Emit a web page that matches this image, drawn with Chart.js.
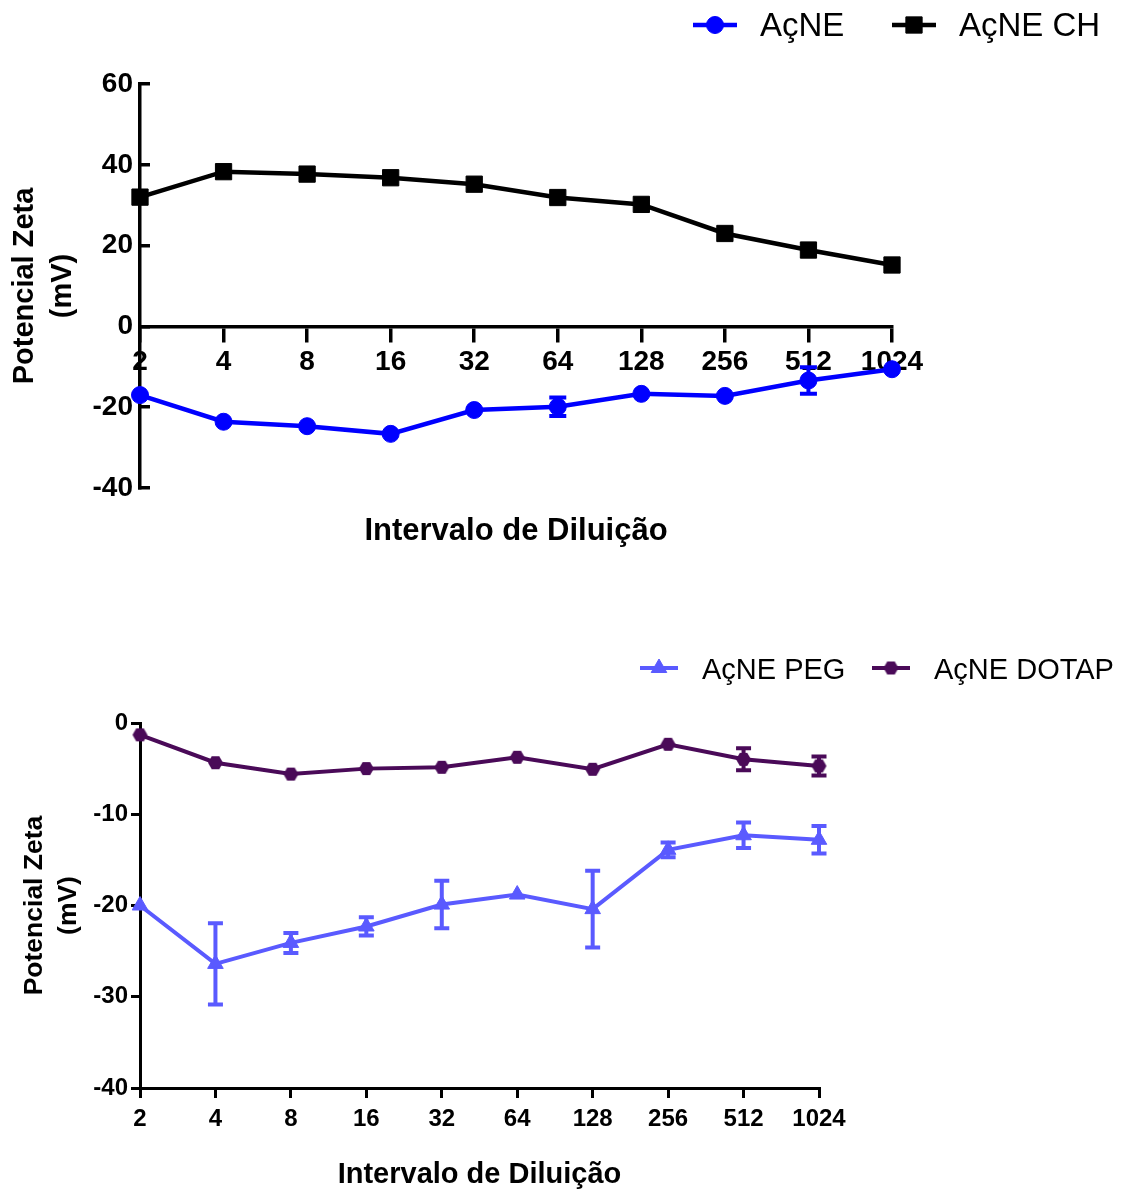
<!DOCTYPE html>
<html lang="pt">
<head>
<meta charset="utf-8">
<title>Potencial Zeta</title>
<script src="https://cdn.jsdelivr.net/npm/chart.js@4.4.1/dist/chart.umd.min.js"></script>
<style>
  html, body { margin: 0; padding: 0; background: #fff; }
  .panel { position: absolute; left: 0; width: 1127px; }
  #panelTop { top: 0; height: 575px; }
  #panelBottom { top: 620px; height: 569px; }
</style>
</head>
<body>
<div class="panel" id="panelTop"><canvas id="zetaTop"></canvas></div>
<div class="panel" id="panelBottom"><canvas id="zetaBottom"></canvas></div>
<script>
// Zeta potential (mV) vs dilution, mean and SD per formulation

const dilutions = ['2', '4', '8', '16', '32', '64', '128', '256', '512', '1024'];

const acneMean   = [-17.0, -23.6, -24.7, -26.6, -20.7, -19.9, -16.7, -17.2, -13.4, -10.6];
const acneSd     = [0, 0, 0, 0, 0, 2.3, 0, 0, 3.3, 0];
const acneChMean = [32.0, 38.3, 37.7, 36.8, 35.2, 31.9, 30.2, 23.0, 18.9, 15.2];
const acneChSd   = [0, 0, 0, 0, 0, 0, 0, 0, 0, 0];

const pegMean   = [-20.0, -26.4, -24.1, -22.3, -19.9, -18.8, -20.4, -13.9, -12.3, -12.8];
const pegSd     = [0, 4.45, 1.1, 1.0, 2.6, 0, 4.2, 0.8, 1.4, 1.5];
const dotapMean = [-1.3, -4.35, -5.6, -5.0, -4.85, -3.76, -5.07, -2.33, -3.98, -4.71];
const dotapSd   = [0, 0, 0, 0, 0, 0, 0, 0, 1.2, 1.05];

const topTicks    = [-40, -20, 0, 20, 40, 60];
const bottomTicks = [-40, -30, -20, -10, 0];

const FONT = '"Liberation Sans", Arial, Helvetica, sans-serif';

// hexagon marker (flat top/bottom), used for the DOTAP series
function hexMarker(color, r) {
  const c = document.createElement('canvas');
  c.width = c.height = Math.ceil(r * 2) + 2;
  const g = c.getContext('2d');
  g.fillStyle = color;
  g.beginPath();
  for (let k = 0; k < 6; k++) {
    const a = Math.PI / 3 * k;
    const px = c.width / 2 + r * Math.cos(a);
    const py = c.height / 2 + r * Math.sin(a);
    if (k) g.lineTo(px, py); else g.moveTo(px, py);
  }
  g.closePath();
  g.fill();
  return c;
}

// legend with a short line segment through the marker
const lineLegend = {
  id: 'lineLegend',
  afterDraw(chart, args, opts) {
    const ctx = chart.ctx;
    ctx.save();
    opts.items.forEach((left, i) => {
      const ds = chart.data.datasets[i];
      ctx.strokeStyle = ds.borderColor;
      ctx.lineWidth = ds.borderWidth;
      ctx.beginPath();
      ctx.moveTo(left, opts.y);
      ctx.lineTo(left + opts.lineLen, opts.y);
      ctx.stroke();
      ctx.fillStyle = ds.pointBackgroundColor;
      ctx.strokeStyle = ds.pointBorderColor;
      ctx.lineWidth = ds.pointBorderWidth;
      Chart.helpers.drawPoint(ctx, {
        pointStyle: ds.pointStyle, radius: ds.pointRadius,
        borderWidth: ds.pointBorderWidth, rotation: 0
      }, left + opts.lineLen / 2, opts.y);
      ctx.fillStyle = '#000';
      ctx.font = opts.font;
      ctx.textBaseline = 'alphabetic';
      ctx.textAlign = 'left';
      ctx.fillText(ds.label, left + opts.textGap, opts.baseline);
    });
    ctx.restore();
  }
};

// SD bars with caps, drawn under the markers
const errorBars = {
  id: 'errorBars',
  beforeDatasetsDraw(chart, args, opts) {
    const ctx = chart.ctx;
    const x = chart.scales.x, y = chart.scales.y;
    ctx.save();
    ctx.lineCap = 'butt';
    chart.data.datasets.forEach(ds => {
      if (!ds.errors) return;
      ctx.strokeStyle = ds.borderColor;
      ctx.lineWidth = opts.lineWidth;
      ds.data.forEach((v, j) => {
        const e = ds.errors[j];
        if (!e) return;
        const px = x.getPixelForValue(j);
        const hi = y.getPixelForValue(v + e);
        const lo = y.getPixelForValue(v - e);
        const w = opts.cap / 2;
        ctx.beginPath();
        ctx.moveTo(px, hi); ctx.lineTo(px, lo);
        ctx.moveTo(px - w, hi); ctx.lineTo(px + w, hi);
        ctx.moveTo(px - w, lo); ctx.lineTo(px + w, lo);
        ctx.stroke();
      });
    });
    ctx.restore();
  }
};

function series(label, data, sd, color, style, radius, width) {
  return {
    label, data, errors: sd,
    borderColor: color, backgroundColor: color,
    pointBackgroundColor: color, pointBorderColor: color,
    pointStyle: style, pointRadius: radius, pointHoverRadius: radius,
    pointBorderWidth: 1, borderWidth: width, tension: 0, clip: false
  };
}

// upper panel: AçNE / AçNE CH, x axis crosses at 0
new Chart(document.getElementById('zetaTop'), {
  type: 'line',
  data: {
    labels: dilutions,
    datasets: [
      series('AçNE', acneMean, acneSd, '#0000ff', 'circle', 8.5, 4.5),
      series('AçNE CH', acneChMean, acneChSd, '#000000', 'rect', 11.5, 4.5)
    ]
  },
  options: {
    responsive: true, maintainAspectRatio: false, animation: false,
    events: [],
    layout: { padding: { top: 84, right: 235, bottom: 0, left: 0 } },
    plugins: {
      legend: { display: false },
      tooltip: { enabled: false },
      lineLegend: { items: [693, 892], y: 25, baseline: 36, lineLen: 44, textGap: 67, font: '33px ' + FONT },
      errorBars: { lineWidth: 4, cap: 17 }
    },
    scales: {
      x: {
        type: 'category', position: { y: 0 }, offset: false, z: 1,
        grid: { drawOnChartArea: false, tickLength: 14, color: '#000', lineWidth: 3.5 },
        border: { color: '#000', width: 3.5 },
        ticks: { color: '#000', padding: 5, maxRotation: 0, autoSkip: false,
                 font: { family: FONT, size: 28, weight: 'bold' } }
      },
      xTitle: {
        type: 'category', position: 'bottom', offset: false,
        grid: { display: false }, border: { display: false }, ticks: { display: false },
        title: { display: true, text: 'Intervalo de Diluição', color: '#000',
                 padding: { top: 0, bottom: 28 },
                 font: { family: FONT, size: 31, weight: 'bold', lineHeight: 1 } },
        afterFit(s) { s.height = 87; }
      },
      y: {
        min: -40, max: 60,
        afterBuildTicks(s) { s.ticks = topTicks.map(v => ({ value: v })); },
        afterFit(s) { s.width = 140; },
        grid: { drawOnChartArea: false, tickLength: -10, color: '#000', lineWidth: 3.5 },
        border: { color: '#000', width: 3.5 },
        ticks: { color: '#000', padding: 17, font: { family: FONT, size: 28, weight: 'bold' } },
        title: { display: true, text: ['Potencial Zeta', '(mV)'], color: '#000',
                 padding: { top: 6, bottom: 0 },
                 font: { family: FONT, size: 29, weight: 'bold', lineHeight: 1.31 } }
      }
    }
  },
  plugins: [lineLegend, errorBars]
});

// lower panel: AçNE PEG / AçNE DOTAP
new Chart(document.getElementById('zetaBottom'), {
  type: 'line',
  data: {
    labels: dilutions,
    datasets: [
      series('AçNE PEG', pegMean, pegSd, '#5a5aff', 'triangle', 9, 4),
      series('AçNE DOTAP', dotapMean, dotapSd, '#4a0a58', hexMarker('#4a0a58', 7.5), 7, 4)
    ]
  },
  options: {
    responsive: true, maintainAspectRatio: false, animation: false,
    events: [],
    layout: { padding: { top: 103, right: 308, bottom: 0, left: 0 } },
    plugins: {
      legend: { display: false },
      tooltip: { enabled: false },
      lineLegend: { items: [640, 872], y: 48, baseline: 59, lineLen: 38, textGap: 62, font: '29px ' + FONT },
      errorBars: { lineWidth: 4, cap: 15 }
    },
    scales: {
      x: {
        type: 'category', position: 'bottom', offset: false,
        grid: { drawOnChartArea: false, tickLength: 10, color: '#000', lineWidth: 3 },
        border: { color: '#000', width: 3 },
        ticks: { color: '#000', padding: 7, maxRotation: 0, autoSkip: false,
                 font: { family: FONT, size: 24, weight: 'bold' } },
        title: { display: true, text: 'Intervalo de Diluição', color: '#000',
                 padding: { top: 0, bottom: 0 },
                 font: { family: FONT, size: 29, weight: 'bold', lineHeight: 1 } },
        afterFit(s) { s.height = 101; }
      },
      y: {
        min: -40, max: 0,
        afterBuildTicks(s) { s.ticks = bottomTicks.map(v => ({ value: v })); },
        afterFit(s) { s.width = 140; },
        grid: { drawOnChartArea: false, tickLength: 9, color: '#000', lineWidth: 3 },
        border: { color: '#000', width: 3 },
        ticks: { color: '#000', padding: 3, font: { family: FONT, size: 24, weight: 'bold' } },
        title: { display: true, text: ['Potencial Zeta', '(mV)'], color: '#000',
                 padding: { top: 18, bottom: 0 },
                 font: { family: FONT, size: 26.5, weight: 'bold', lineHeight: 1.28 } }
      }
    }
  },
  plugins: [lineLegend, errorBars]
});
</script>
</body>
</html>
